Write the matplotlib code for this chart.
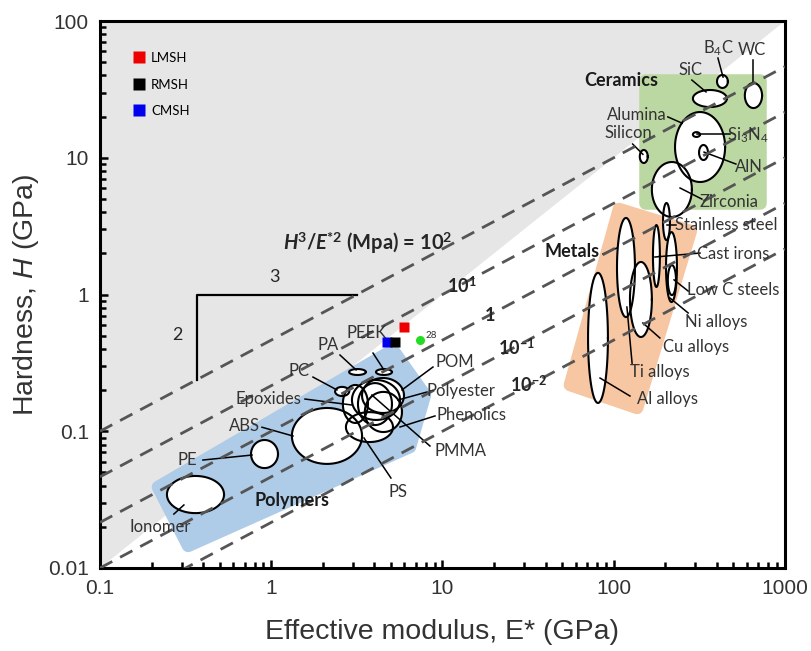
import numpy as np
import matplotlib
matplotlib.use('Agg')
import matplotlib.pyplot as plt
from matplotlib.patches import Polygon

plt.rcParams['font.family'] = ['Lato', 'DejaVu Sans']
plt.rcParams['mathtext.fontset'] = 'custom'
plt.rcParams['mathtext.rm'] = 'Lato'
plt.rcParams['mathtext.it'] = 'Lato:italic'
plt.rcParams['mathtext.bf'] = 'Lato:bold'
plt.rcParams['mathtext.sf'] = 'Liberation Sans:italic'
try:
    plt.rcParams['mathtext.bfit'] = 'Lato:bold:italic'
except KeyError:
    pass

# property ranges (E* low/high, H low/high), GPa
polymers = ['Ionomer', 'PE', 'ABS', 'PC', 'PA', 'PEEK', 'Epoxides', 'PS', 'PMMA',
            'Polyester', 'Phenolics', 'POM']
poly_E = [(0.246, 0.530), (0.762, 1.095), (1.32, 3.39), (2.36, 2.85), (2.85, 3.57),
          (4.09, 5.07), (2.62, 3.67), (2.73, 5.14), (3.21, 5.07), (2.96, 5.65),
          (3.52, 5.8), (3.39, 5.96)]
poly_H = [(0.0252, 0.0471), (0.0538, 0.0863), (0.0577, 0.148), (0.181, 0.211),
          (0.258, 0.285), (0.258, 0.285), (0.115, 0.218), (0.0834, 0.138),
          (0.111, 0.225), (0.121, 0.237), (0.0987, 0.194), (0.136, 0.245)]

metals = ['Al alloys', 'Ti alloys', 'Cu alloys', 'Cast irons', 'Stainless steel',
          'Ni alloys', 'Low C steels']
metal_E = [(70.8, 92.5), (104.5, 133), (124.4, 167), (169.5, 186), (194, 213),
           (202, 234), (207, 231)]
metal_H = [(0.161, 1.44), (0.684, 3.63), (0.489, 1.73), (1.135, 3.22), (2.5, 4.67),
           (0.881, 2.86), (0.99, 1.64)]

ceramics = ['Alumina', 'Zirconia', 'SiC', 'B4C', 'WC', 'Si3N4', 'AlN', 'Silicon']
cer_E = [(228, 447), (167, 286), (290, 458), (401, 464), (583, 735), (290, 319),
         (315, 355), (142, 158)]
cer_H = [(6.65, 21.6), (3.69, 9.31), (23.5, 31.3), (32.4, 40.3), (23.1, 35.2),
         (14.2, 15.4), (9.63, 12.4), (9.16, 11.4)]

# class envelopes (corner E, H)
poly_env_E = [0.218, 5.14, 7.90, 6.46, 0.327]
poly_env_H = [0.0391, 0.393, 0.184, 0.0767, 0.0145]
metal_env_E = [107.3, 282, 137, 55.5]
metal_env_H = [4.22, 2.91, 0.148, 0.218]
cer_env_E = [152, 714, 714, 152]
cer_env_H = [37.0, 37.0, 4.67, 4.67]

# H^3/E*^2 index lines (MPa)
index_vals = [100, 10, 1, 0.1, 0.01]
index_labels = [r'$\mathbfit{H}^{\mathbf{3}}\mathbf{/}\mathbfit{E}^{\mathbf{*2}}$ (Mpa) = 10$^{\mathbf{2}}$',
                r'10$^{\mathbf{1}}$', '1', r'10$^{\mathbf{-1}}$', r'10$^{\mathbf{-2}}$']
index_lab_E = [1.17, 13.0, 18.9, 27.2, 32.0]
index_lab_H = [2.38, 1.17, 0.697, 0.406, 0.218]

# measured samples
samples = ['CMSH', 'RMSH', 'LMSH']
sample_E = [4.74, 5.28, 5.96]
sample_H = [0.449, 0.449, 0.578]
sample_col = ['#0000ee', '#000000', '#ee0000']
ref28_E, ref28_H = 7.39, 0.465

# labels: text, E, H, align, leader start, leader end
labels = [
    ('Ionomer', 0.224, 0.0200, 'center', (0.270, 0.0248), (0.309, 0.0289)),
    ('PE', 0.322, 0.0616, 'center', (0.399, 0.0616), (0.772, 0.067)),
    ('ABS', 0.693, 0.109, 'center', (0.883, 0.107), (1.34, 0.0923)),
    ('Epoxides', 0.957, 0.172, 'center', (1.574, 0.172), (2.96, 0.1556)),
    ('PC', 1.452, 0.276, 'center', (1.753, 0.249), (2.42, 0.2005)),
    ('PA', 2.14, 0.428, 'center', (2.52, 0.361), (3.13, 0.281)),
    ('PEEK', 3.62, 0.523, 'center', (3.93, 0.373), (4.55, 0.281)),
    ('POM', 11.8, 0.321, 'center', (8.80, 0.295), (5.80, 0.2005)),
    ('Polyester', 12.8, 0.197, 'center', (8.12, 0.1936), (5.50, 0.1693)),
    ('Phenolics', 14.7, 0.1315, 'center', (9.04, 0.1294), (5.65, 0.1074)),
    ('PMMA', 12.8, 0.0718, 'center', (8.45, 0.078), (3.87, 0.184)),
    ('PS', 5.50, 0.036, 'center', (5.0, 0.0455), (3.48, 0.0893)),
    ('Stainless steel', 228, 3.22, 'left', (205, 3.22), (230, 3.22)),
    ('Cast irons', 306, 1.98, 'left', (174, 1.88), (319, 2.01)),
    ('Low C steels', 268, 1.08, 'left', (225, 1.28), (272, 1.06)),
    ('Ni alloys', 261, 0.629, 'left', (213, 0.943), (272, 0.733)),
    ('Cu alloys', 194, 0.413, 'left', (148, 0.619), (186, 0.481)),
    ('Ti alloys', 124.4, 0.271, 'left', (119.4, 0.810), (128, 0.315)),
    ('Al alloys', 137, 0.172, 'left', (83.2, 0.245), (124.4, 0.181)),
    ('SiC', 279, 43.8, 'center', (286, 37), (346, 30.3)),
    (r'B$_\mathrm{4}$C', 406, 63.5, 'center', (406, 53.6), (435, 38.9)),
    ('WC', 641, 61.4, 'center', (650, 51.9), (650, 34.6)),
    ('Alumina', 137, 20.5, 'center', (207, 19.9), (251, 17.9)),
    ('Silicon', 121, 15.2, 'center', (129, 12.6), (148, 10.6)),
    (r'Si$_\mathrm{3}$N$_\mathrm{4}$', 458, 14.7, 'left', (306, 14.9), (477, 14.9)),
    ('AlN', 511, 8.55, 'left', (337, 11.0), (517, 9.0)),
    ('Zirconia', 319, 4.75, 'left', (244, 6.01), (327, 4.99)),
]
groups = [('Polymers', 1.322, 0.0314), ('Metals', 57.0, 2.05), ('Ceramics', 110, 37.0)]


def ellipse(Er, Hr, n=120):
    t = np.linspace(0, 2 * np.pi, n)
    le = np.log10(Er)
    lh = np.log10(Hr)
    x = le.mean() + (le[1] - le[0]) / 2 * np.cos(t)
    y = lh.mean() + (lh[1] - lh[0]) / 2 * np.sin(t)
    return 10 ** x, 10 ** y


fig = plt.figure(figsize=(8.11, 6.51), dpi=100)
ax = fig.add_axes([0.1233, 0.1275, 0.8446, 0.8402])
ax.set_xscale('log')
ax.set_yscale('log')
ax.set_xlim(0.1, 1000)
ax.set_ylim(0.01, 100)

# grey zone above H = E/10
ax.fill([0.1, 1000, 0.1], [0.01, 100, 100], color='#e6e6e6', lw=0, zorder=0)

for ex, hy, c in [(poly_env_E, poly_env_H, '#aecbe8'),
                  (metal_env_E, metal_env_H, '#f7c6a3'),
                  (cer_env_E, cer_env_H, '#bcd8a2')]:
    ax.add_patch(Polygon(np.column_stack([ex, hy]), closed=True, fc=c, ec=c,
                         lw=9, joinstyle='round', zorder=1))

allE = poly_E + metal_E + cer_E
allH = poly_H + metal_H + cer_H
for Er, Hr in zip(allE, allH):
    x, y = ellipse(Er, Hr)
    ax.fill(x, y, color='white', lw=0, zorder=2)
for Er, Hr in zip(allE, allH):
    x, y = ellipse(Er, Hr)
    ax.plot(x, y, color='black', lw=1.5, zorder=3)

# index lines
Eline = np.logspace(-1, 3, 200)
for c in index_vals:
    ax.plot(Eline, (c / 1000 * Eline ** 2) ** (1 / 3), color='#555555', lw=2.0,
            ls=(0, (5, 3.2)), zorder=5)
for i, (t, x, y) in enumerate(zip(index_labels, index_lab_E, index_lab_H)):
    ax.text(x, y, t, fontsize=14.5 if i == 0 else 13, fontweight='bold',
            color='#262626', ha='left' if i == 0 else 'center', va='center', zorder=6)

# slope triangle 2:3
ax.plot([0.37, 0.37, 3.16], [0.239, 1.0, 1.0], color='black', lw=1.6, zorder=4)
ax.text(1.05, 1.34, '3', fontsize=13, ha='center', va='center', color='#262626')
ax.text(0.282, 0.506, '2', fontsize=13, ha='center', va='center', color='#262626')

for t, x, y, ha, p0, p1 in labels:
    ax.plot([p0[0], p1[0]], [p0[1], p1[1]], color='black', lw=1.1, zorder=4)
    ax.text(x, y, t, fontsize=12, ha=ha, va='center', color='#333333', zorder=6)
for t, x, y in groups:
    ax.text(x, y, t, fontsize=13, fontweight='bold', ha='center', va='center',
            color='#1a1a1a', zorder=6)
ax.plot([86.5, 104.5], [1.98, 2.19], color='black', lw=1.1, zorder=4)

handles = {}
for name, x, y, c in zip(samples, sample_E, sample_H, sample_col):
    handles[name], = ax.plot(x, y, 's', color=c, ms=6.5, mec='none', zorder=7, label=name)
ax.plot(ref28_E, ref28_H, 'o', color='#22dd22', ms=6.5, mec='none', zorder=7)
ax.text(ref28_E * 1.07, ref28_H * 1.08, '28', fontsize=7, color='#333333', va='center')

ax.legend(handles=[handles['LMSH'], handles['RMSH'], handles['CMSH']],
          loc='upper left', bbox_to_anchor=(0.03, 0.965), frameon=False,
          fontsize=9.5, labelspacing=1.1, handletextpad=0.4, handlelength=1.0,
          markerscale=1.3)

for s in ax.spines.values():
    s.set_linewidth(2.2)
ax.tick_params(which='both', direction='in', top=False, right=False, width=1.8,
               labelsize=15, labelcolor='#333333', pad=8)
ax.tick_params(which='major', length=6)
ax.tick_params(which='minor', length=4)
ax.set_xticks([0.1, 1, 10, 100, 1000])
ax.set_xticklabels(['0.1', '1', '10', '100', '1000'], family='Liberation Sans')
ax.set_yticks([0.01, 0.1, 1, 10, 100])
ax.set_yticklabels(['0.01', '0.1', '1', '10', '100'], family='Liberation Sans')
ax.set_xlabel('Effective modulus, E* (GPa)', fontsize=20.5, family='Liberation Sans',
              color='#333333', labelpad=15)
ax.set_ylabel(r'Hardness, $\mathsf{H}$ (GPa)', fontsize=20.5, family='Liberation Sans',
              color='#333333', labelpad=5)

fig.savefig('out.png', dpi=100)
